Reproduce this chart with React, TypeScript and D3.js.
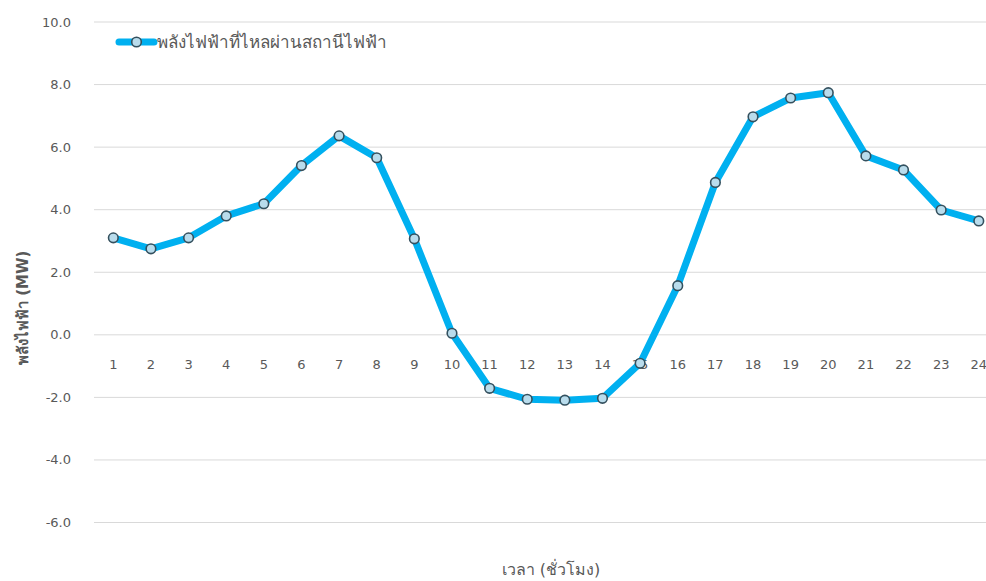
import { useEffect, useRef } from "react";
import * as d3 from "d3";

const hours = [
  "1", "2", "3", "4", "5", "6", "7", "8", "9", "10", "11", "12",
  "13", "14", "15", "16", "17", "18", "19", "20", "21", "22", "23", "24",
];
const power = [
  3.1, 2.75, 3.1, 3.8, 4.19, 5.41, 6.36, 5.66, 3.07, 0.05, -1.71, -2.06,
  -2.09, -2.03, -0.91, 1.57, 4.87, 6.97, 7.57, 7.74, 5.72, 5.27, 3.99, 3.64,
];
const yTicks = [-6, -4, -2, 0, 2, 4, 6, 8, 10];
const seriesName = "พลังไฟฟ้าที่ไหลผ่านสถานีไฟฟ้า";
const xTitle = "เวลา (ชั่วโมง)";
const yTitle = "พลังไฟฟ้า (MW)";

const width = 986;
const height = 581;

export default function App() {
  const ref = useRef<SVGSVGElement>(null);

  useEffect(() => {
    const svg = d3.select(ref.current);
    svg.selectAll("*").remove();

    const font = "'DejaVu Sans', Verdana, sans-serif";
    const textColor = "#595959";

    const x = d3.scaleBand<string>().domain(hours).range([94.5, 997.6]);
    const y = d3.scaleLinear().domain([-6, 10]).range([522.5, 22]);

    // gridlines
    svg
      .append("g")
      .selectAll("line")
      .data(yTicks)
      .join("line")
      .attr("x1", 94)
      .attr("x2", width)
      .attr("y1", (d) => y(d))
      .attr("y2", (d) => y(d))
      .attr("stroke", "#d9d9d9")
      .attr("stroke-width", 1);

    // y tick labels (plain hyphen for negatives, like the original)
    svg
      .append("g")
      .selectAll("text")
      .data(yTicks)
      .join("text")
      .attr("x", 71)
      .attr("y", (d) => y(d))
      .attr("dy", "0.35em")
      .attr("text-anchor", "end")
      .attr("font-family", font)
      .attr("font-size", 13)
      .attr("fill", textColor)
      .text((d) => d.toFixed(1));

    // category labels, sitting just under the zero line
    svg
      .append("g")
      .selectAll("text")
      .data(hours)
      .join("text")
      .attr("x", (d) => (x(d) ?? 0) + x.bandwidth() / 2)
      .attr("y", y(0) + 30)
      .attr("dy", "0.35em")
      .attr("text-anchor", "middle")
      .attr("font-family", font)
      .attr("font-size", 13)
      .attr("fill", textColor)
      .text((d) => d);

    const cx = (i: number) => (x(hours[i]) ?? 0) + x.bandwidth() / 2;

    const line = d3
      .line<number>()
      .x((_, i) => cx(i))
      .y((d) => y(d));

    svg
      .append("path")
      .datum(power)
      .attr("d", line)
      .attr("fill", "none")
      .attr("stroke", "#00b0f0")
      .attr("stroke-width", 7)
      .attr("stroke-linejoin", "round")
      .attr("stroke-linecap", "round");

    svg
      .append("g")
      .selectAll("circle")
      .data(power)
      .join("circle")
      .attr("cx", (_, i) => cx(i))
      .attr("cy", (d) => y(d))
      .attr("r", 4.8)
      .attr("fill", "#b9dcec")
      .attr("stroke", "#34505e")
      .attr("stroke-width", 1.6);

    // legend
    const lg = svg.append("g").attr("transform", "translate(0,42)");
    lg.append("line")
      .attr("x1", 119)
      .attr("x2", 154)
      .attr("y1", 0)
      .attr("y2", 0)
      .attr("stroke", "#00b0f0")
      .attr("stroke-width", 7)
      .attr("stroke-linecap", "round");
    lg.append("circle")
      .attr("cx", 136.5)
      .attr("cy", 0)
      .attr("r", 4.8)
      .attr("fill", "#b9dcec")
      .attr("stroke", "#34505e")
      .attr("stroke-width", 1.6);
    lg.append("text")
      .attr("x", 157)
      .attr("y", 0)
      .attr("dy", "0.35em")
      .attr("font-family", font)
      .attr("font-size", 17)
      .attr("fill", textColor)
      .text(seriesName);

    // axis titles
    svg
      .append("text")
      .attr("transform", `translate(23,${y(0) - 27}) rotate(-90)`)
      .attr("text-anchor", "middle")
      .attr("dy", "0.35em")
      .attr("font-family", font)
      .attr("font-size", 15)
      .attr("font-weight", "bold")
      .attr("fill", textColor)
      .text(yTitle);

    svg
      .append("text")
      .attr("x", 551)
      .attr("y", 569)
      .attr("text-anchor", "middle")
      .attr("dy", "0.35em")
      .attr("font-family", font)
      .attr("font-size", 16)
      .attr("fill", textColor)
      .text(xTitle);
  }, []);

  return (
    <svg
      ref={ref}
      width={width}
      height={height}
      style={{ position: "absolute", left: 0, top: 0, background: "#fff" }}
    />
  );
}
